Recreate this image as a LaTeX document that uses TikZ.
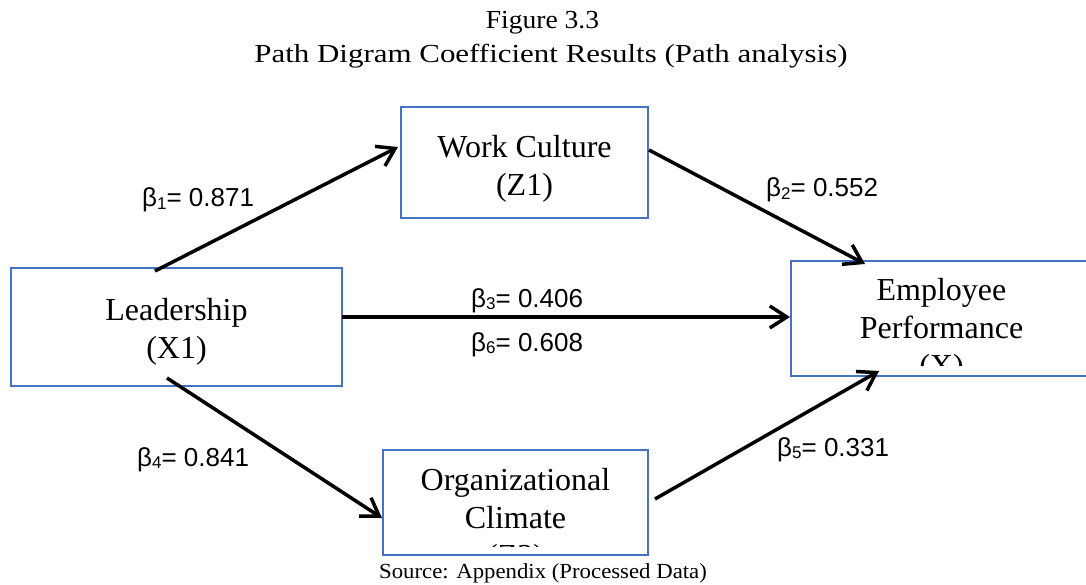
\documentclass[tikz,border=0pt]{standalone}
\usepackage{fontspec}
\setmainfont{Liberation Serif}
\newfontfamily\titlefont[FakeStretch=1.19]{Liberation Serif}
\newfontfamily\figfont[FakeStretch=1.06]{Liberation Serif}
\newfontfamily\labfont{Liberation Sans}
\usetikzlibrary{arrows.meta,calc}
\definecolor{boxblue}{HTML}{4472C4}
\newcommand\bsub[1]{\raisebox{-0.1em}{\fontsize{17}{17}\selectfont #1}}
\newcommand\twoline[2]{\begin{tabular}[t]{@{}c@{}}#1\\#2\end{tabular}}
\newcommand\threeline[3]{\begin{tabular}[t]{@{}c@{}}#1\\#2\\#3\end{tabular}}
\begin{document}
\begin{tikzpicture}[x=1pt,y=-1pt,
  box/.style={draw=boxblue, line width=2pt, inner sep=0pt, outer sep=0pt, rectangle},
  boxtext/.style={font=\fontsize{32}{38}\selectfont, inner sep=0pt, anchor=base},
  lab/.style={font=\labfont\fontsize{26}{30}\selectfont, anchor=base west, inner sep=0pt},
  titletext/.style={font=\titlefont\fontsize{26}{30}\selectfont, anchor=base, inner sep=0pt},
  conn/.style={line width=3.5pt, -{Straight Barb[length=17pt,width=22pt,line width=3.5pt]}},
]
\useasboundingbox (0,0) rectangle (1086,585);
\fill[white] (0,0) rectangle (1086,585);

% titles
\node[titletext, font=\figfont\fontsize{26}{30}\selectfont] (fig) at (542.5,29) {Figure 3.3};
\node[titletext] (ttl) at (551,63) {Path Digram Coefficient Results (Path analysis)};
\node[titletext, font=\figfont\fontsize{21.5}{25}\selectfont] (src) at (543,578) {Source: Appendix (Processed Data)};

% boxes (text clipped at an inner margin, as in the reference)
\node[box, minimum width=331pt, minimum height=118pt,
  path picture={\node[boxtext] (leadtxt) at ([yshift=7pt]path picture bounding box.center) {\twoline{Leadership}{(X1)}};}]
  (lead) at (176.5,327) {};
\node[box, minimum width=247pt, minimum height=111pt,
  path picture={\node[boxtext] (wctxt) at ([yshift=4.5pt]path picture bounding box.center) {\twoline{Work Culture}{(Z1)}};}]
  (wc) at (524.5,162.5) {};
\node[box, minimum width=301pt, minimum height=115pt,
  path picture={\clip ([yshift=11pt]path picture bounding box.south west) rectangle (path picture bounding box.north east);
    \node[boxtext] (eptxt) at ([yshift=18.5pt]path picture bounding box.center) {\threeline{Employee}{Performance}{(X)}};}]
  (ep) at (941.5,318.5) {};
\node[box, minimum width=265pt, minimum height=105pt,
  path picture={\clip ([yshift=9pt]path picture bounding box.south west) rectangle (path picture bounding box.north east);
    \node[boxtext] (octxt) at ([yshift=12.5pt]path picture bounding box.center) {\threeline{Organizational}{Climate}{(Z2)}};}]
  (oc) at (515.5,502.5) {};

% connectors
\draw[conn] ([xshift=-21.5pt,yshift=-3pt]lead.north) -- ([xshift=-3pt,yshift=15.5pt]wc.west);
\draw[conn] ([xshift=1pt,yshift=12.5pt]wc.east) -- ([xshift=-76.5pt,yshift=-3pt]ep.north);
\draw[conn] ([yshift=10pt]lead.east) -- ([xshift=-1pt,yshift=1.5pt]ep.west);
\draw[conn] ([xshift=-9.5pt,yshift=8pt]lead.south) -- ([xshift=-1pt,yshift=-15.5pt]oc.west);
\draw[conn] ([xshift=7pt,yshift=3.5pt]oc.east) -- ([xshift=-62.5pt,yshift=5pt]ep.south);

% coefficient labels
\node[lab] (b1) at (142,207) {β\bsub{1}= 0.871};
\node[lab] (b2) at (766,197) {β\bsub{2}= 0.552};
\node[lab] (b3) at (471,307) {β\bsub{3}= 0.406};
\node[lab] (b6) at (471,351) {β\bsub{6}= 0.608};
\node[lab] (b4) at (137,466) {β\bsub{4}= 0.841};
\node[lab] (b5) at (777,456) {β\bsub{5}= 0.331};
\end{tikzpicture}
\end{document}
